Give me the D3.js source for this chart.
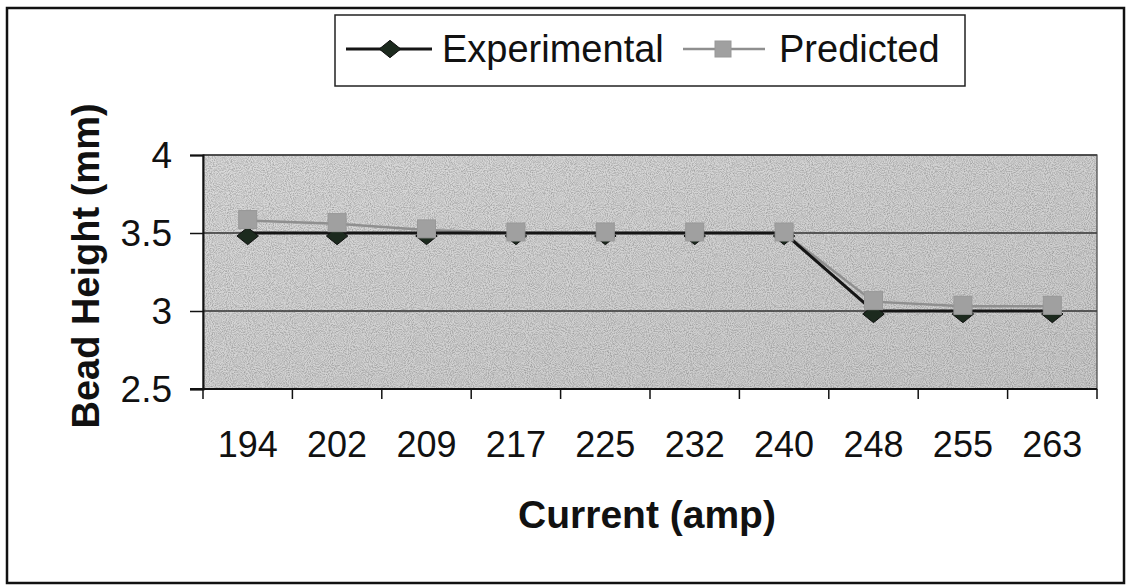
<!DOCTYPE html>
<html>
<head>
<meta charset="utf-8">
<script src="https://cdn.jsdelivr.net/npm/d3@7/dist/d3.min.js"></script>
<style>
  html, body { margin: 0; padding: 0; background: #fff; }
  svg { display: block; font-family: "Liberation Sans", Arial, sans-serif; }
</style>
</head>
<body>
<svg id="chart" width="1127" height="587"></svg>
<script>
// Welding current settings (amp)
const currents = ["194", "202", "209", "217", "225", "232", "240", "248", "255", "263"];
// Bead height (mm)
const experimental = [3.5, 3.5, 3.5, 3.5, 3.5, 3.5, 3.5, 3.0, 3.0, 3.0];
const predicted = [3.58, 3.56, 3.52, 3.5, 3.5, 3.5, 3.5, 3.06, 3.03, 3.03];
const yTicks = [2.5, 3, 3.5, 4];

const svg = d3.select("#chart");
const plot = { left: 203, right: 1097, top: 155, bottom: 389 };

// Outer chart frame
svg.append("rect")
  .attr("x", 7).attr("y", 8).attr("width", 1117).attr("height", 575)
  .attr("fill", "#fff").attr("stroke", "#111").attr("stroke-width", 2.5);

const x = d3.scaleBand().domain(currents).range([plot.left, plot.right]);
const y = d3.scaleLinear().domain([2.5, 4]).range([plot.bottom, plot.top]);

// Wide diamond marker
const wideDiamond = {
  draw(ctx, size) {
    const w = Math.sqrt(size) * 0.62, h = Math.sqrt(size) * 0.5;
    ctx.moveTo(0, -h); ctx.lineTo(w, 0); ctx.lineTo(0, h); ctx.lineTo(-w, 0); ctx.closePath();
  }
};

// Grainy grey plot area
const defs = svg.append("defs");
const grad = defs.append("linearGradient").attr("id", "bg")
  .attr("x1", "0").attr("y1", "0").attr("x2", "1").attr("y2", "1");
grad.append("stop").attr("offset", "0").attr("stop-color", "#dadada");
grad.append("stop").attr("offset", "1").attr("stop-color", "#cbcbcb");
const grain = defs.append("filter").attr("id", "grain")
  .attr("x", 0).attr("y", 0).attr("width", 1).attr("height", 1);
grain.append("feTurbulence").attr("type", "fractalNoise")
  .attr("baseFrequency", 0.95).attr("numOctaves", 2).attr("seed", 3).attr("result", "n");
grain.append("feColorMatrix").attr("in", "n").attr("type", "matrix")
  .attr("values", "0 0 0 0 0  0 0 0 0 0  0 0 0 0 0  0 0 0 0.5 -0.18").attr("result", "a");
grain.append("feComposite").attr("in", "a").attr("in2", "SourceGraphic").attr("operator", "in");

svg.append("rect")
  .attr("x", plot.left).attr("y", plot.top)
  .attr("width", plot.right - plot.left).attr("height", plot.bottom - plot.top)
  .attr("fill", "url(#bg)");
svg.append("rect")
  .attr("x", plot.left).attr("y", plot.top)
  .attr("width", plot.right - plot.left).attr("height", plot.bottom - plot.top)
  .attr("fill", "#000").attr("filter", "url(#grain)");

// Horizontal gridlines
svg.append("g").selectAll("line")
  .data(yTicks.filter(d => d !== 2.5))
  .join("line")
  .attr("x1", plot.left).attr("x2", plot.right)
  .attr("y1", d => y(d)).attr("y2", d => y(d))
  .attr("stroke", "#333").attr("stroke-width", 1.3);

// Plot area border
svg.append("rect")
  .attr("x", plot.left).attr("y", plot.top)
  .attr("width", plot.right - plot.left).attr("height", plot.bottom - plot.top)
  .attr("fill", "none").attr("stroke", "#444").attr("stroke-width", 1.2);

// Y axis
const yAxis = svg.append("g")
  .attr("transform", `translate(${plot.left},0)`)
  .call(d3.axisLeft(y).tickValues(yTicks).tickFormat(d3.format("")).tickSize(13).tickPadding(18));
yAxis.select(".domain").attr("stroke", "#111").attr("stroke-width", 2);
yAxis.selectAll(".tick line").attr("stroke", "#111").attr("stroke-width", 1.5);
yAxis.selectAll(".tick text").attr("font-size", 37).attr("fill", "#111").attr("dy", "0.34em")
  .attr("font-family", "'Liberation Sans', Arial, sans-serif");

// X axis: ticks at category boundaries
const xAxis = svg.append("g").attr("transform", `translate(0,${plot.bottom})`);
xAxis.append("line")
  .attr("x1", plot.left - 13).attr("x2", plot.right)
  .attr("stroke", "#111").attr("stroke-width", 2);
const bounds = currents.map(c => x(c)).concat([x(currents[currents.length - 1]) + x.bandwidth()]);
xAxis.selectAll("line.tk").data(bounds).join("line").attr("class", "tk")
  .attr("x1", d => d).attr("x2", d => d).attr("y1", 0).attr("y2", 10)
  .attr("stroke", "#111").attr("stroke-width", 1.5);
xAxis.selectAll("text").data(currents).join("text")
  .attr("x", d => x(d) + x.bandwidth() / 2).attr("y", 68)
  .attr("text-anchor", "middle").attr("font-size", 36).attr("fill", "#111")
  .text(d => d);

// Axis titles
svg.append("text")
  .attr("transform", `translate(99,266) rotate(-90)`)
  .attr("text-anchor", "middle").attr("font-size", 38).attr("font-weight", "bold").attr("fill", "#111")
  .text("Bead Height (mm)");
svg.append("text")
  .attr("x", 647).attr("y", 528)
  .attr("text-anchor", "middle").attr("font-size", 39).attr("font-weight", "bold").attr("fill", "#111")
  .text("Current (amp)");

// Series lines and markers
const cx = d => x(d) + x.bandwidth() / 2;
const line = d3.line().x((d, i) => cx(currents[i])).y(d => y(d));

svg.append("path").datum(predicted).attr("d", line)
  .attr("fill", "none").attr("stroke", "#8f8f8f").attr("stroke-width", 2.5);
svg.append("path").datum(experimental).attr("d", line)
  .attr("fill", "none").attr("stroke", "#151515").attr("stroke-width", 3);

svg.append("g").selectAll("path").data(experimental).join("path")
  .attr("transform", (d, i) => `translate(${cx(currents[i])},${y(d) + 3})`)
  .attr("d", d3.symbol().type(wideDiamond).size(300))
  .attr("fill", "#1c2a1e").attr("stroke", "#111").attr("stroke-width", 1);

svg.append("g").selectAll("rect").data(predicted).join("rect")
  .attr("x", (d, i) => cx(currents[i]) - 9).attr("y", d => y(d) - 10)
  .attr("width", 18).attr("height", 18)
  .attr("fill", "#a0a0a0").attr("stroke", "#989898").attr("stroke-width", 1);

// Legend
const lg = svg.append("g");
lg.append("rect").attr("x", 335).attr("y", 15).attr("width", 630).attr("height", 71)
  .attr("fill", "#fff").attr("stroke", "#222").attr("stroke-width", 1.5);
lg.append("line").attr("x1", 346).attr("x2", 432).attr("y1", 49).attr("y2", 49)
  .attr("stroke", "#151515").attr("stroke-width", 3);
lg.append("path").attr("transform", "translate(390,49)")
  .attr("d", d3.symbol().type(wideDiamond).size(300))
  .attr("fill", "#1c2a1e").attr("stroke", "#111");
lg.append("text").attr("x", 442).attr("y", 62).attr("font-size", 38).attr("fill", "#111")
  .text("Experimental");
lg.append("line").attr("x1", 683).attr("x2", 765).attr("y1", 49).attr("y2", 49)
  .attr("stroke", "#8f8f8f").attr("stroke-width", 2.5);
lg.append("rect").attr("x", 715).attr("y", 41).attr("width", 16).attr("height", 16)
  .attr("fill", "#a0a0a0").attr("stroke", "#989898");
lg.append("text").attr("x", 779).attr("y", 62).attr("font-size", 38).attr("fill", "#111")
  .text("Predicted");
</script>
</body>
</html>
